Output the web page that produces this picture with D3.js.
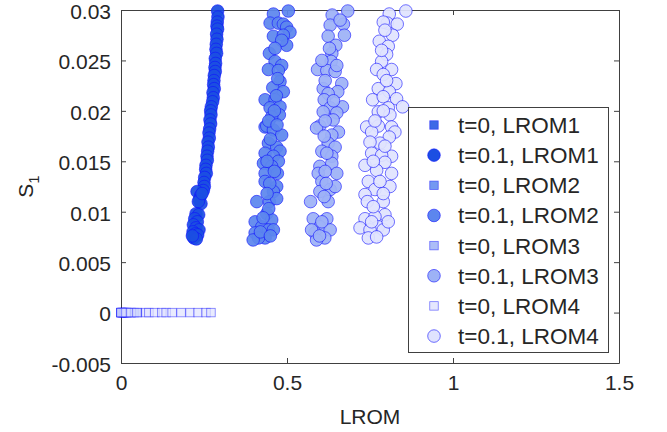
<!DOCTYPE html>
<html><head><meta charset="utf-8">
<script src="https://cdn.jsdelivr.net/npm/d3@7"></script>
<style>body{margin:0;background:#fff;} text{font-family:Arial,"Liberation Sans",Helvetica,sans-serif;fill:#262626;}</style>
</head><body><svg id="c" width="667" height="432"></svg>
<script>
// ---------------- data ----------------
const legendLabels = ["t=0, LROM1","t=0.1, LROM1","t=0, LROM2","t=0.1, LROM2","t=0, LROM3","t=0.1, LROM3","t=0, LROM4","t=0.1, LROM4"];
const xTicks = [0, 0.5, 1, 1.5];
const xTickLabels = ["0","0.5","1","1.5"];
const yTicks = [-0.005, 0, 0.005, 0.01, 0.015, 0.02, 0.025, 0.03];
const yTickLabels = ["-0.005","0","0.005","0.01","0.015","0.02","0.025","0.03"];
const xLabel = "LROM";
const yLabelMain = "S";
const yLabelSub = "1";

// t=0 : S1 = 0, LROM values
const t0_LROM1 = [0, 0.002, 0.004, 0.006];
const t0_LROM2 = [0, 0.005, 0.01, 0.015, 0.02];
const t0_LROM3 = [0, 0.01, 0.02, 0.03, 0.04, 0.05];
const t0_LROM4 = [0, 0.015, 0.03, 0.048, 0.075, 0.084, 0.102, 0.123, 0.136, 0.154, 0.181, 0.208, 0.232, 0.256, 0.271];

// t=0.1 : [LROM, S1]
const t01_LROM1 = [
[0.291,0.0299],[0.292,0.0293],[0.290,0.0288],[0.289,0.0284],[0.291,0.0281],[0.288,0.0276],[0.289,0.0271],[0.287,0.0266],
[0.286,0.0261],[0.288,0.0257],[0.284,0.0252],[0.285,0.0247],[0.283,0.0243],[0.284,0.0239],[0.281,0.0235],[0.280,0.0230],
[0.279,0.0226],[0.281,0.0222],[0.277,0.0218],[0.278,0.0213],[0.276,0.0209],[0.272,0.0204],[0.270,0.0200],[0.271,0.0196],
[0.268,0.0191],[0.270,0.0187],[0.267,0.0182],[0.265,0.0178],[0.266,0.0173],[0.262,0.0169],[0.263,0.0164],[0.261,0.0160],
[0.259,0.0155],[0.260,0.0151],[0.256,0.0146],[0.255,0.0142],[0.257,0.0138],[0.252,0.0134],[0.250,0.0129],[0.251,0.0125],
[0.248,0.0121],[0.229,0.0120],[0.240,0.0116],[0.236,0.0112],[0.241,0.0108],[0.233,0.0110],[0.244,0.0118],
[0.226,0.0098],[0.234,0.0097],[0.222,0.0093],[0.230,0.0090],[0.218,0.0087],[0.226,0.0084],[0.235,0.0082],[0.217,0.0080],
[0.224,0.0078],[0.231,0.0077],[0.219,0.0074],[0.227,0.0073],[0.215,0.0076]
];
const t01_LROM2 = [
[0.504,0.0299],[0.459,0.0296],[0.449,0.0287],[0.474,0.0287],[0.489,0.0286],[0.499,0.0283],[0.509,0.0278],[0.459,0.0274],
[0.489,0.0275],[0.499,0.0265],[0.484,0.0270],[0.447,0.0257],[0.464,0.0249],[0.484,0.0245],[0.444,0.0241],[0.474,0.0240],
[0.479,0.0229],[0.457,0.0223],[0.489,0.0219],[0.434,0.0211],[0.464,0.0211],[0.449,0.0203],[0.479,0.0204],[0.477,0.0196],
[0.454,0.0194],[0.434,0.0184],[0.439,0.0185],[0.459,0.0181],[0.484,0.0176],[0.444,0.0168],[0.469,0.0164],[0.434,0.0158],
[0.479,0.0160],[0.459,0.0155],[0.429,0.0148],[0.474,0.0150],[0.454,0.0145],[0.434,0.0138],[0.471,0.0138],[0.434,0.0130],
[0.469,0.0125],[0.459,0.0120],[0.409,0.0110],[0.447,0.0110],[0.469,0.0113],[0.439,0.0098],[0.404,0.0090],[0.424,0.0085],
[0.454,0.0092],[0.444,0.0082],[0.459,0.0082],[0.404,0.0079],[0.434,0.0074],[0.414,0.0074],[0.398,0.0072],
[0.464,0.0262],[0.472,0.0232],[0.468,0.0215],[0.462,0.0200],[0.445,0.0190],[0.470,0.0186],[0.450,0.0172],[0.440,0.0150],
[0.462,0.0140],[0.448,0.0128],[0.440,0.0118],[0.445,0.0103],[0.428,0.0094],[0.420,0.0080],[0.450,0.0076]
];
const t01_LROM3 = [
[0.683,0.0299],[0.636,0.0295],[0.630,0.0285],[0.670,0.0286],[0.673,0.0275],[0.624,0.0274],[0.647,0.0265],[0.635,0.0257],
[0.633,0.0249],[0.592,0.0241],[0.620,0.0240],[0.645,0.0239],[0.665,0.0227],[0.609,0.0222],[0.653,0.0219],[0.624,0.0217],
[0.612,0.0211],[0.667,0.0204],[0.630,0.0203],[0.609,0.0199],[0.650,0.0198],[0.599,0.0185],[0.639,0.0191],[0.589,0.0183],
[0.655,0.0179],[0.635,0.0176],[0.624,0.0168],[0.645,0.0164],[0.605,0.0160],[0.635,0.0155],[0.599,0.0145],[0.635,0.0148],
[0.594,0.0138],[0.650,0.0138],[0.605,0.0130],[0.630,0.0122],[0.599,0.0120],[0.645,0.0125],[0.624,0.0110],[0.571,0.0110],
[0.579,0.0093],[0.620,0.0093],[0.599,0.0085],[0.630,0.0082],[0.584,0.0079],[0.614,0.0074],[0.589,0.0072],[0.574,0.0082],
[0.615,0.0230],[0.640,0.0210],[0.615,0.0190],[0.620,0.0158],[0.615,0.0140],[0.612,0.0115],[0.605,0.0090],[0.598,0.0076],
[0.660,0.0290],[0.628,0.0262],[0.605,0.0250],[0.650,0.0245],[0.612,0.0175],[0.618,0.0128]
];
const t01_LROM4 = [
[0.858,0.0299],[0.808,0.0296],[0.802,0.0287],[0.832,0.0286],[0.790,0.0288],[0.818,0.0275],[0.778,0.0269],[0.805,0.0264],
[0.800,0.0256],[0.785,0.0249],[0.770,0.0241],[0.815,0.0241],[0.790,0.0236],[0.828,0.0227],[0.775,0.0222],[0.808,0.0219],
[0.758,0.0211],[0.790,0.0214],[0.830,0.0212],[0.848,0.0204],[0.805,0.0203],[0.775,0.0199],[0.810,0.0196],[0.740,0.0184],
[0.775,0.0185],[0.815,0.0184],[0.825,0.0179],[0.755,0.0179],[0.808,0.0174],[0.780,0.0168],[0.750,0.0169],[0.755,0.0158],
[0.815,0.0155],[0.785,0.0156],[0.735,0.0146],[0.795,0.0149],[0.770,0.0141],[0.815,0.0138],[0.745,0.0130],[0.810,0.0125],
[0.765,0.0122],[0.735,0.0117],[0.790,0.0110],[0.742,0.0110],[0.795,0.0097],[0.735,0.0093],[0.765,0.0095],[0.775,0.0085],
[0.720,0.0084],[0.750,0.0082],[0.790,0.0082],[0.745,0.0074],[0.770,0.0075],
[0.795,0.0280],[0.785,0.0260],[0.800,0.0230],[0.790,0.0200],[0.765,0.0190],[0.795,0.0165],[0.760,0.0150],[0.780,0.0130],
[0.790,0.0118],[0.760,0.0105],[0.755,0.0090],[0.805,0.0090]
];
const seriesColors = ["#1b4fe2", "#5c86ee", "#9db2f6", "#e0e3fe"];

// ---------------- drawing ----------------
const svg = d3.select("#c");
const L = 121, R = 619, T = 10, B = 363;
const x = d3.scaleLinear().domain([0, 1.5]).range([L, R]);
const y = d3.scaleLinear().domain([-0.005, 0.03]).range([B, T]);
const axisCol = "#404040";
const fs = 21;
const legFs = 22.5;

// axes box with inward ticks
const gx = svg.append("g").attr("transform", `translate(0,${B})`)
  .call(d3.axisBottom(x).tickValues(xTicks).tickFormat((d,i)=>xTickLabels[i]).tickSizeInner(-5).tickSizeOuter(0).tickPadding(12));
const gy = svg.append("g").attr("transform", `translate(${L},0)`)
  .call(d3.axisLeft(y).tickValues(yTicks).tickFormat((d,i)=>yTickLabels[i]).tickSizeInner(-5).tickSizeOuter(0).tickPadding(10));
const gt = svg.append("g").attr("transform", `translate(0,${T})`)
  .call(d3.axisTop(x).tickValues(xTicks).tickFormat("").tickSizeInner(-5).tickSizeOuter(0));
const gr = svg.append("g").attr("transform", `translate(${R},0)`)
  .call(d3.axisRight(y).tickValues(yTicks).tickFormat("").tickSizeInner(-5).tickSizeOuter(0));
[gx, gy, gt, gr].forEach(g => {
  g.selectAll("path.domain").attr("stroke", axisCol).attr("stroke-width", 1);
  g.selectAll(".tick line").attr("stroke", axisCol).attr("stroke-width", 1);
  g.selectAll(".tick text").style("font-size", fs + "px").attr("fill", "#262626")
    .style("font-family", "Arial, 'Liberation Sans', sans-serif");
});
gy.selectAll(".tick text").attr("dy", "0.4em");

// axis labels
svg.append("text").attr("x", (L + R) / 2).attr("y", 424).attr("text-anchor", "middle")
  .style("font-size", fs + "px").text(xLabel);
const yl = svg.append("text").attr("transform", `translate(33,${(T + B) / 2}) rotate(-90)`)
  .attr("text-anchor", "middle").style("font-size", fs + "px");
yl.append("tspan").text(yLabelMain);
yl.append("tspan").attr("dy", 6).style("font-size", "15px").text(yLabelSub);

// marks
const plot = svg.append("g");
const sqSize = 8.5;
const edge = "#1010ff";
function drawSquares(vals, col) {
  plot.append("g").selectAll("rect").data(vals).join("rect")
    .attr("x", d => x(d) - sqSize / 2).attr("y", y(0) - sqSize / 2)
    .attr("width", sqSize).attr("height", sqSize)
    .attr("fill", col).attr("fill-opacity", 0.7)
    .attr("stroke", edge).attr("stroke-opacity", 0.55).attr("stroke-width", 0.8);
}
function drawCircles(pts, col) {
  plot.append("g").selectAll("circle").data(pts).join("circle")
    .attr("cx", d => x(d[0])).attr("cy", d => y(d[1])).attr("r", 6.3)
    .attr("fill", col).attr("fill-opacity", 0.93)
    .attr("stroke", edge).attr("stroke-opacity", 0.65).attr("stroke-width", 0.9);
}
const t0Sets = [t0_LROM1, t0_LROM2, t0_LROM3, t0_LROM4];
const t01Sets = [t01_LROM1, t01_LROM2, t01_LROM3, t01_LROM4];
for (let i = 0; i < 4; i++) {
  drawSquares(t0Sets[i], seriesColors[i]);
  drawCircles(t01Sets[i], seriesColors[i]);
}

// legend
const lg = svg.append("g");
lg.append("rect").attr("x", 408.5).attr("y", 107.5).attr("width", 200).attr("height", 245)
  .attr("fill", "#fff").attr("stroke", axisCol).attr("stroke-width", 1);
legendLabels.forEach((lab, i) => {
  const cy = 125 + i * 30.15;
  const col = seriesColors[Math.floor(i / 2)];
  if (i % 2 === 0) {
    lg.append("rect").attr("x", 434 - sqSize / 2).attr("y", cy - sqSize / 2).attr("width", sqSize).attr("height", sqSize)
      .attr("fill", col).attr("fill-opacity", 0.85).attr("stroke", edge).attr("stroke-opacity", 0.55).attr("stroke-width", 0.8);
  } else {
    lg.append("circle").attr("cx", 434).attr("cy", cy).attr("r", 6.3)
      .attr("fill", col).attr("stroke", edge).attr("stroke-opacity", 0.65).attr("stroke-width", 0.9);
  }
  lg.append("text").attr("x", 458).attr("y", cy + 8).style("font-size", legFs + "px").text(lab);
});
</script></body></html>
